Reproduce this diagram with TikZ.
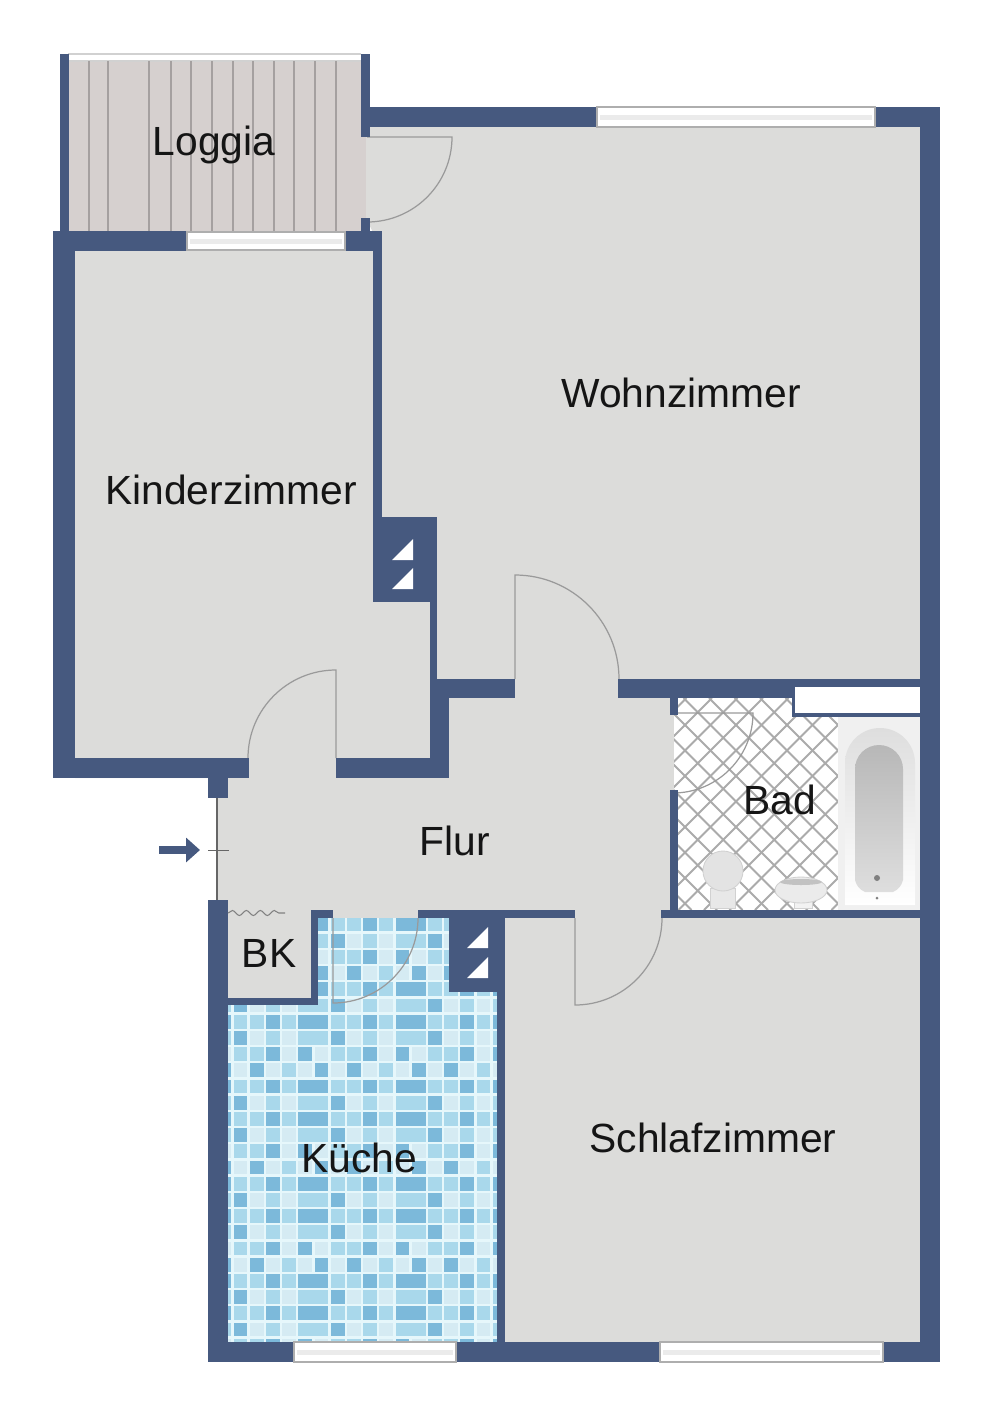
\documentclass[tikz,border=0pt]{standalone}
\usepackage{fontspec}
\setmainfont{Liberation Sans}
\usetikzlibrary{arrows.meta,decorations.pathmorphing,shadings}
\definecolor{wallblue}{HTML}{46597F}
\definecolor{floorgray}{HTML}{DCDCDA}
\definecolor{loggiafloor}{HTML}{D6D0CF}
\definecolor{plank}{HTML}{A5A0A0}
\definecolor{grout}{HTML}{E6F7FB}
\definecolor{tile0}{HTML}{D5EBF3}
\definecolor{tile1}{HTML}{A9D8EB}
\definecolor{tile2}{HTML}{7CB9DA}
\definecolor{hatch}{HTML}{ABABAB}
\definecolor{leaf}{HTML}{9A9A9A}
\definecolor{labelink}{HTML}{151515}

\begin{document}
\begin{tikzpicture}
[x=0.02cm,y=-0.02cm]
\tikzset{
	wall/.style = {fill=wallblue},
	shaftgap/.style = {fill=white},
	doorleaf/.style = {draw=leaf, line width=0.7pt},
	wdw/.style = {draw=leaf!80, fill=white, line width=0.8pt},
	wdwbar/.style = {fill=black!8},
	room/.style = {font=\fontsize{23.2}{26}\selectfont, text=labelink, inner sep=0},
	entry/.style = {wallblue, line width=4.5pt, -{Triangle[length=0.28cm,width=0.48cm]}},
	sanitary/.style = {draw=black!18, line width=0.5pt}
}

\useasboundingbox (0,0) rectangle (1000,1411);

\fill[floorgray] (366,127) -- (920,127) -- (920,1342) -- (228,1342) -- (228,900) -- (217,900) -- (217,778) -- (75,778) -- (75,251) -- (382,251) -- (366,218) -- cycle;

\fill[loggiafloor] (69,61) rectangle (366,232);
\fill[white] (68,54) rectangle (361,61);
\draw[black!18, line width=0.6pt] (68,54) -- (361,54) (68,61) -- (361,61);
\foreach \px in {89,108,149,171,191,212,233,253,274,294,315,336}
	\draw[plank, line width=0.6pt] (\px,61) -- (\px,232);

\begin{scope}
	\clip (228,1005) -- (318,1005) -- (318,918) -- (449,918) -- (449,992) -- (497,992) -- (497,1342) -- (228,1342) -- cycle;
	\fill[grout] (228,918) rectangle (497,1342);
	\foreach \rw in {0,...,26}
		\foreach \cl in {5,...,22}{
			\pgfmathtruncatemacro\tileidx{6*mod(\rw,6)+mod(\cl,6)}
			\pgfmathtruncatemacro\tone{{1,1,2,1,2,2, 2,0,1,0,1,1, 1,1,2,0,2,0, 0,2,0,1,0,2, 1,1,2,1,2,2, 2,0,1,0,1,1}[\tileidx]}
			\pgfmathsetmacro\tw{(mod(\cl,6)==4 && mod(\rw,6)!=2 && mod(\rw,6)!=3) ? 30 : 13.8}
			\fill[tile\tone] (233.5+16.2*\cl-97.2,917.5+16.2*\rw) rectangle +(\tw,13.8);
		}
\end{scope}

\fill[white] (674,698) rectangle (838,910);
\begin{scope}
	\clip (674,698) rectangle (838,910);
	\foreach \k in {0,...,15}{
		\draw[hatch, line width=1.1pt] (836.5-25.5*\k,698) -- ++(212,212);
		\draw[hatch, line width=1.1pt] (1043.5-25.5*\k,698) -- ++(-212,212);
	}
\end{scope}

\fill[white] (795,687) rectangle (920,713);
\fill[black!6] (838,717) rectangle (920,910);
\path[top color=black!13, bottom color=white] (845,905) -- (845,763) arc[start angle=180,end angle=360,radius=35] -- (915,905) -- cycle;
\path[top color=black!28, bottom color=black!13] (855,880) -- (855,769) arc[start angle=180,end angle=360,radius=24] -- (903,880) to[bend left=25] (893,892) -- (865,892) to[bend left=25] (855,880) -- cycle;
\fill[black!50] (877,878) circle[radius=3];
\fill[black!50] (877,898) circle[radius=1.5];

\draw[sanitary, fill=black!9] (710,888) rectangle (735,908);
\draw[sanitary, fill=black!11] (723,871) circle[radius=20];
\draw[sanitary, fill=black!5] (794,895) rectangle (812,908);
\draw[sanitary, fill=black!8] (801,890) ellipse[x radius=26, y radius=13];
\fill[black!24] (801,882) ellipse[x radius=21, y radius=3];

\foreach \hx/\hy/\ta/\tb/\rd in {367/137/0/90/85, 336/758/270/180/88, 515/679/270/360/104, 673/713/0/90/80, 575/918/90/0/87, 333/918/90/0/85}
	\draw[doorleaf] (\hx,\hy) -- ++(\ta:\rd) arc[start angle=\ta,end angle=\tb,radius=\rd];

\foreach \xa/\ya/\xb/\yb in {
	60/54/69/232, 361/54/370/137, 361/218/370/232,
	370/107/597/127, 875/107/940/127, 920/107/940/1362,
	53/231/187/251, 345/231/382/251, 53/231/75/778,
	53/758/249/778, 336/758/449/778, 208/778/228/798,
	373/251/382/518, 373/517/437/602, 430/602/437/680,
	430/679/449/778, 430/679/515/698,
	618/679/920/687, 618/687/792/698, 792/687/795/717, 792/713/920/717,
	670/698/678/715, 670/790/678/910, 661/910/920/918,
	418/910/575/918, 311/910/333/918, 311/910/318/1005,
	228/998/318/1005, 208/900/228/1362,
	449/918/505/992, 497/992/505/1342,
	208/1342/294/1362, 456/1342/660/1362, 883/1342/940/1362
}
	\fill[wall] (\xa,\ya) rectangle (\xb,\yb);

\foreach \bx/\by in {392/560, 392/589, 467/948, 467/978}
	\fill[shaftgap] (\bx,\by) -- ++(21,0) -- ++(0,-21) -- cycle;

\foreach \xa/\ya/\xb/\yb in {597/107/875/127, 187/232/345/250, 294/1342/456/1362, 660/1342/883/1362}{
	\draw[wdw] (\xa,\ya) rectangle (\xb,\yb);
	\fill[wdwbar] (\xa+3,{(\ya+\yb)/2-2.5}) rectangle (\xb-3,{(\ya+\yb)/2+2.5});
}

\coordinate (frontTop) at (217,798);
\coordinate (frontBottom) at (217,900);
\coordinate (tickLeft) at (208,850);
\coordinate (tickRight) at (229,850);
\coordinate (entryFrom) at (159,850);
\coordinate (entryTo) at (200,850);
\coordinate (waveFrom) at (228,913);
\coordinate (waveTo) at (285,913);
\draw[black!60, line width=0.7pt] (frontTop) -- (frontBottom);
\draw[black!60, line width=0.5pt] (tickLeft) -- (tickRight);
\draw[entry] (entryFrom) -- (entryTo);
\draw[black!50, line width=0.6pt, decorate, decoration={snake, amplitude=0.05cm, segment length=0.28cm}] (waveFrom) -- (waveTo);

\node (loggia) [room] at (214,145) {Loggia};
\node (wohnzimmer) [room] at (681,393) {Wohnzimmer};
\node (kinderzimmer) [room] at (231,490) {Kinderzimmer};
\node (flur) [room] at (455,841) {Flur};
\node (bad) [room] at (780,800) {Bad};
\node (bk) [room] at (269,953) {BK};
\node (kueche) [room] at (359,1158) {Küche};
\node (schlafzimmer) [room] at (713,1138) {Schlafzimmer};

\end{tikzpicture}
\end{document}
